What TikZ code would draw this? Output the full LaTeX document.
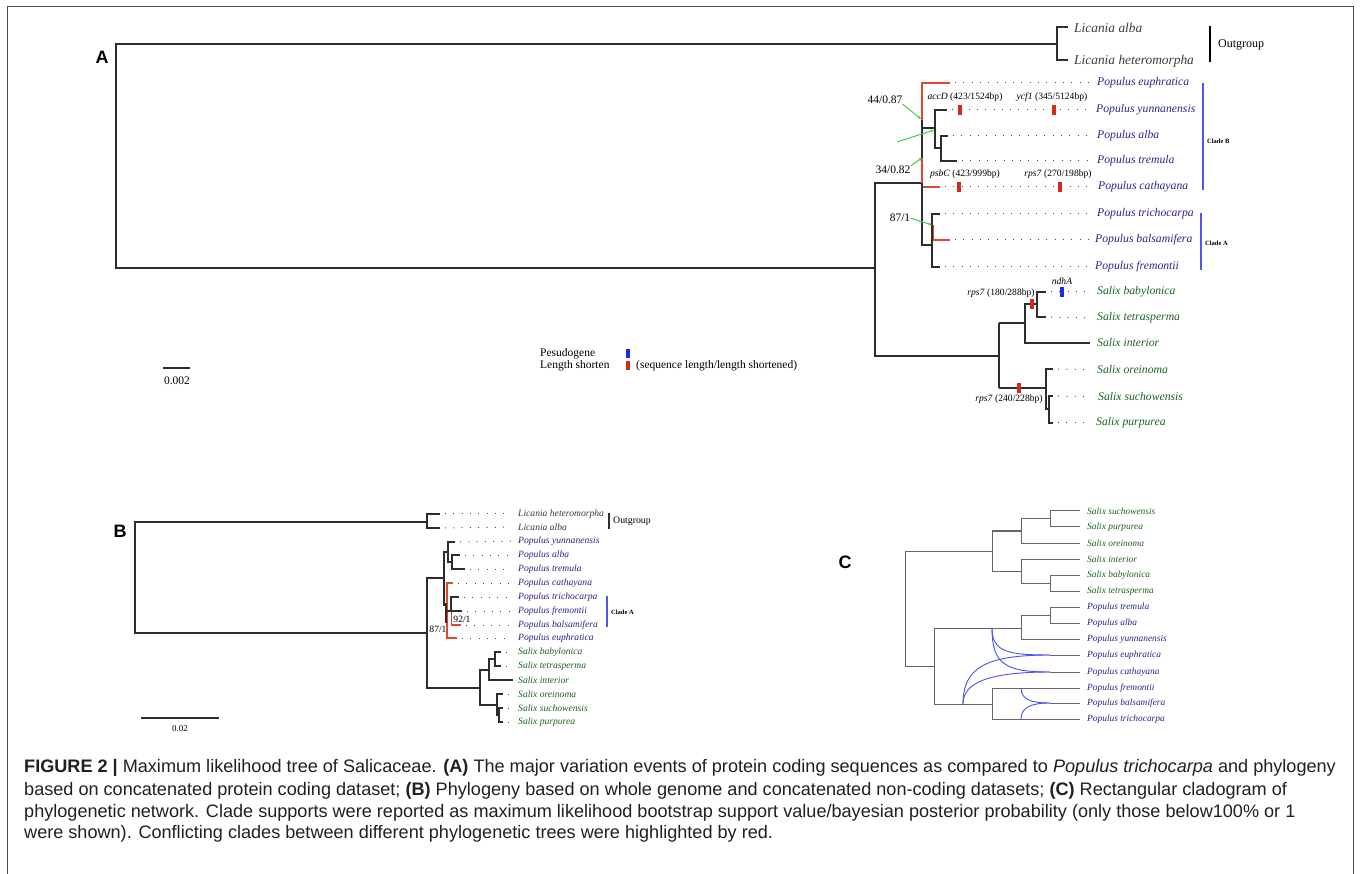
\documentclass[tikz,border=0pt]{standalone}
\usepackage{fontspec}
\setmainfont{Liberation Serif}
\setsansfont{Liberation Sans}
\newfontfamily\capfont{Liberation Sans}
\usetikzlibrary{positioning,calc,arrows.meta}

\definecolor{popblue}{RGB}{38,38,140}
\definecolor{salgreen}{RGB}{28,100,28}
\definecolor{licgray}{RGB}{60,60,60}
\definecolor{conflict}{RGB}{222,72,48}
\definecolor{cladebar}{RGB}{85,85,235}
\definecolor{suparrow}{RGB}{60,205,80}
\definecolor{shortmk}{RGB}{212,42,28}
\definecolor{pseudomk}{RGB}{28,40,235}
\definecolor{branch}{RGB}{45,45,45}
\definecolor{capgray}{RGB}{35,31,32}

\tikzset{
  br/.style={draw=branch, line width=1.2pt},
  redbr/.style={draw=conflict, line width=1.2pt},
  cbr/.style={draw=black!60, line width=1pt},
  net/.style={draw=pseudomk!80, line width=0.9pt},
  leader/.style={draw=black!70, line width=1pt, dash pattern=on 1pt off 7.3pt, shorten <=5pt, shorten >=7pt},
  cladebarline/.style={draw=cladebar, line width=1.3pt},
  supline/.style={draw=suparrow, line width=1pt, -{Stealth[length=3.5pt,width=3pt]}},
  taxA/.style={anchor=west, inner sep=0pt, font=\fontsize{11.7}{13}\selectfont\itshape},
  taxB/.style={anchor=west, inner sep=0pt, font=\fontsize{9.6}{11}\selectfont\itshape},
  taxC/.style={anchor=west, inner sep=0pt, font=\fontsize{9.4}{11}\selectfont\itshape},
  licA/.style={taxA, text=licgray, font=\fontsize{13.4}{15}\selectfont\itshape},
  genelab/.style={inner sep=0pt, font=\fontsize{9.6}{11}\selectfont},
  suplab/.style={inner sep=0pt, font=\fontsize{11.5}{13}\selectfont},
  smalllab/.style={inner sep=0pt, font=\fontsize{9.6}{11}\selectfont},
  cladelab/.style={anchor=west, inner sep=0pt, font=\fontsize{6.5}{7}\selectfont\bfseries},
  mk/.style={fill=shortmk, minimum width=3.2pt, minimum height=10pt, inner sep=0pt},
  pmk/.style={mk, fill=pseudomk},
  panel/.style={inner sep=0pt, font=\fontsize{18}{20}\sffamily\bfseries},
  caption/.style={anchor=base west, inner sep=0pt, text=capgray, font=\capfont\fontsize{18.1}{21}\selectfont}
}

\begin{document}
\begin{tikzpicture}[x=1pt, y=-1pt]
\useasboundingbox (0,0) rectangle (1361,874);
\fill[white] (0,0) rectangle (1361,874);
\draw[black!70, line width=0.8pt] (7,874) -- (7,6) -- (1353,6) -- (1353,874);

% ---------------- A ----------------
\node (labA) [panel] at (102,57) {A};
\draw[br] (1057,44) -- (116,44) -- (116,268) -- (875,268);
\draw[br] (1068,27) -- (1057,27) -- (1057,60) -- (1068,60);
\draw[br] (922,183) -- (875,183) -- (875,356) -- (999,356);

\draw[redbr] (950,83) -- (922,83) -- (922,120);
\draw[br, line width=2.2pt] (922,120) -- (922,158);
\draw[redbr] (922,158) -- (922,187) -- (940,187);
\draw[br] (922,183) -- (922,245) -- (932,245);
\draw[br] (922,128) -- (935,128);
\draw[br] (947,110) -- (935,110) -- (935,148) -- (941,148);
\draw[br] (948,136) -- (941,136) -- (941,161) -- (957,161);
\draw[br] (940,214) -- (932,214) -- (932,267) -- (940,267);
\draw[redbr] (933.5,225) -- (933.5,240) -- (950,240);

\draw[br] (999,323) -- (999,388);
\draw[br] (999,323) -- (1025,323);
\draw[br] (1037,304) -- (1025,304) -- (1025,343) -- (1090,343);
\draw[br] (1046,292) -- (1037,292) -- (1037,317) -- (1046,317);
\draw[br] (999,388) -- (1046,388);
\draw[br] (1053,369) -- (1046,369) -- (1046,409) -- (1049,409);
\draw[br] (1053,396) -- (1049,396) -- (1049,423) -- (1053,423);

\node (aLalb) [licA] at (1074,28) {Licania alba};
\node (aLhet) [licA] at (1074,61) {Licania heteromorpha};
\node (aEuph) [taxA, text=popblue] at (1097,83) {Populus euphratica};
\node (aYunn) [taxA, text=popblue] at (1096,110) {Populus yunnanensis};
\node (aAlba) [taxA, text=popblue] at (1097,136) {Populus alba};
\node (aTrem) [taxA, text=popblue] at (1097,161) {Populus tremula};
\node (aCath) [taxA, text=popblue] at (1098,187) {Populus cathayana};
\node (aTric) [taxA, text=popblue] at (1097,214) {Populus trichocarpa};
\node (aBals) [taxA, text=popblue] at (1095,240) {Populus balsamifera};
\node (aFrem) [taxA, text=popblue] at (1095,267) {Populus fremontii};
\node (aBaby) [taxA, text=salgreen] at (1097,292) {Salix babylonica};
\node (aTetr) [taxA, text=salgreen] at (1097,318) {Salix tetrasperma};
\node (aInte) [taxA, text=salgreen] at (1097,343) {Salix interior};
\node (aOrei) [taxA, text=salgreen] at (1097,370) {Salix oreinoma};
\node (aSuch) [taxA, text=salgreen] at (1098,397) {Salix suchowensis};
\node (aPurp) [taxA, text=salgreen] at (1096,423) {Salix purpurea};

\draw[leader] (1068,28) -- (aLalb.west);
\draw[leader] (1068,61) -- (aLhet.west);
\draw[leader] (950,83) -- (aEuph.west);
\draw[leader] (947,110) -- (aYunn.west);
\draw[leader] (948,136) -- (aAlba.west);
\draw[leader] (957,161) -- (aTrem.west);
\draw[leader] (940,187) -- (aCath.west);
\draw[leader] (940,214) -- (aTric.west);
\draw[leader] (950,240) -- (aBals.west);
\draw[leader] (940,267) -- (aFrem.west);
\draw[leader] (1046,292) -- (aBaby.west);
\draw[leader] (1046,317) -- (aTetr.west);
\draw[leader] (1053,369) -- (aOrei.west);
\draw[leader] (1053,396) -- (aSuch.west);
\draw[leader] (1053,423) -- (aPurp.west);

\draw[black, line width=1.1pt] (1210,26) -- (1210,62);
\node (aOut) [anchor=west, inner sep=0pt, font=\fontsize{12}{14}\selectfont] at (1218,45) {Outgroup};
\draw[cladebarline] (1203,83) -- (1203,190);
\node (aCladeB) [cladelab] at (1207,141) {Clade B};
\draw[cladebarline] (1201,213) -- (1201,270);
\node (aCladeA) [cladelab] at (1205,243) {Clade A};

\node (accD) [mk] at (960,110) {};
\node (ycf1) [mk] at (1054,110) {};
\node (psbC) [mk] at (959,187) {};
\node (rpsA) [mk] at (1060,187) {};
\node (rpsB) [mk] at (1032,304) {};
\node (rpsC) [mk] at (1019,388) {};
\node (ndhA) [pmk] at (1062,292) {};
\node (accDlab) [genelab, above=3pt of accD, xshift=5pt] {\textit{accD} (423/1524bp)};
\node (ycf1lab) [genelab, above=3pt of ycf1, xshift=-2pt] {\textit{ycf1} (345/5124bp)};
\node (psbClab) [genelab, above=3pt of psbC, xshift=6pt] {\textit{psbC} (423/999bp)};
\node (rpsAlab) [genelab, above=3pt of rpsA, xshift=-2pt] {\textit{rps7} (270/198bp)};
\node (rpsBlab) [genelab, above=1pt of rpsB, xshift=-31pt] {\textit{rps7} (180/288bp)};
\node (rpsClab) [genelab, below=1pt of rpsC, xshift=-10pt] {\textit{rps7} (240/228bp)};
\node (ndhAlab) [genelab, above=2pt of ndhA] {\textit{ndhA}};

\node (sup44) [suplab] at (885,100) {44/0.87};
\node (sup34) [suplab] at (893,170) {34/0.82};
\node (sup87) [suplab] at (900,218) {87/1};
\coordinate (n44) at (921,119);
\coordinate (n34) at (922,158);
\coordinate (nYA) at (934,130);
\coordinate (fromYA) at (897,142);
\coordinate (n87) at (932,225);
\draw[supline] (sup44.south east) -- (n44);
\draw[supline] (sup34.north east) -- (n34);
\draw[supline] (fromYA) -- (nYA);
\draw[supline] (sup87.east) -- (n87);

\node (legP) [anchor=west, inner sep=0pt, font=\fontsize{11.5}{13}\selectfont] at (540,354) {Pesudogene};
\node (legL) [anchor=west, inner sep=0pt, font=\fontsize{11.5}{13}\selectfont] at (540,366) {Length shorten};
\node (legPmk) [pmk, minimum height=9pt] at (628,354) {};
\node (legLmk) [mk, minimum height=9pt] at (628,366) {};
\node (legS) [anchor=west, inner sep=0pt, font=\fontsize{11.5}{13}\selectfont] at (636,366) {(sequence length/length shortened)};

\draw[br] (163,368) -- (190,368);
\node (scaleA) [inner sep=0pt, font=\fontsize{11.5}{13}\selectfont] at (177,381) {0.002};

% ---------------- B ----------------
\node (labB) [panel] at (120,531) {B};
\draw[br] (427,522) -- (135,522) -- (135,633) -- (427,633);
\draw[br] (440,514) -- (427,514) -- (427,528) -- (440,528);
\draw[br] (444,578) -- (427,578) -- (427,688) -- (480,688);
\draw[br] (448,552) -- (444,552) -- (444,605) -- (447,605);
\draw[br] (455,542) -- (448,542) -- (448,562) -- (452,562);
\draw[br] (460,555) -- (452,555) -- (452,569) -- (465,569);
\draw[redbr] (453,583) -- (447,583) -- (447,638) -- (457,638);
\draw[br, line width=2pt] (445.5,603) -- (445.5,623);
\draw[br] (447,611) -- (451,611);
\draw[br] (459,597) -- (451,597) -- (451,611) -- (462,611);
\draw[redbr] (451.5,612) -- (451.5,625) -- (461,625);
\draw[br] (489,670) -- (480,670) -- (480,705) -- (497,705);
\draw[br] (495,659) -- (489,659) -- (489,680) -- (513,680);
\draw[br] (501,652) -- (495,652) -- (495,666) -- (501,666);
\draw[br] (503,694) -- (497,694) -- (497,715) -- (499,715);
\draw[br] (503,708) -- (499,708) -- (499,722) -- (503,722);

\node (bLhet) [taxB, text=licgray] at (518,514) {Licania heteromorpha};
\node (bLalb) [taxB, text=licgray] at (518,527) {Licania alba};
\node (bYunn) [taxB, text=popblue] at (518,541) {Populus yunnanensis};
\node (bAlba) [taxB, text=popblue] at (518,555) {Populus alba};
\node (bTrem) [taxB, text=popblue] at (518,569) {Populus tremula};
\node (bCath) [taxB, text=popblue] at (518,583) {Populus cathayana};
\node (bTric) [taxB, text=popblue] at (518,597) {Populus trichocarpa};
\node (bFrem) [taxB, text=popblue] at (518,611) {Populus fremontii};
\node (bBals) [taxB, text=popblue] at (518,625) {Populus balsamifera};
\node (bEuph) [taxB, text=popblue] at (518,638) {Populus euphratica};
\node (bBaby) [taxB, text=salgreen] at (518,652) {Salix babylonica};
\node (bTetr) [taxB, text=salgreen] at (518,666) {Salix tetrasperma};
\node (bInte) [taxB, text=salgreen] at (518,680) {Salix interior};
\node (bOrei) [taxB, text=salgreen] at (518,694) {Salix oreinoma};
\node (bSuch) [taxB, text=salgreen] at (518,708) {Salix suchowensis};
\node (bPurp) [taxB, text=salgreen] at (518,722) {Salix purpurea};

\draw[leader] (440,514) -- (bLhet.west);
\draw[leader] (440,528) -- (bLalb.west);
\draw[leader] (455,542) -- (bYunn.west);
\draw[leader] (460,555) -- (bAlba.west);
\draw[leader] (465,569) -- (bTrem.west);
\draw[leader] (453,583) -- (bCath.west);
\draw[leader] (459,597) -- (bTric.west);
\draw[leader] (462,611) -- (bFrem.west);
\draw[leader] (461,625) -- (bBals.west);
\draw[leader] (457,638) -- (bEuph.west);
\draw[leader] (501,652) -- (bBaby.west);
\draw[leader] (501,666) -- (bTetr.west);
\draw[leader] (503,694) -- (bOrei.west);
\draw[leader] (503,708) -- (bSuch.west);
\draw[leader] (503,722) -- (bPurp.west);

\draw[branch, line width=1.8pt] (609,513) -- (609,529);
\node (bOut) [anchor=west, inner sep=0pt, font=\fontsize{9.8}{11}\selectfont] at (613,521) {Outgroup};
\draw[cladebarline] (607,596) -- (607,627);
\node (bCladeA) [cladelab] at (611,612) {Clade A};
\node (sup92) [smalllab] at (462,619) {92/1};
\node (supB87) [smalllab] at (438,629) {87/1};

\draw[br] (141,718) -- (219,718);
\node (scaleB) [inner sep=0pt, font=\fontsize{9}{11}\selectfont] at (180,729) {0.02};

% ---------------- C ----------------
\node (labC) [panel] at (845,562) {C};
\draw[cbr] (992,551) -- (905,551) -- (905,666) -- (934,666);
\draw[cbr] (1021,531) -- (992,531) -- (992,571) -- (1021,571);
\draw[cbr] (1050,519) -- (1021,519) -- (1021,543) -- (1080,543);
\draw[cbr] (1080,511) -- (1050,511) -- (1050,527) -- (1080,527);
\draw[cbr] (1080,559) -- (1021,559) -- (1021,583) -- (1050,583);
\draw[cbr] (1080,575) -- (1050,575) -- (1050,591) -- (1080,591);
\draw[cbr] (1021,628) -- (934,628) -- (934,704) -- (992,704);
\draw[cbr] (1050,615) -- (1021,615) -- (1021,639) -- (1080,639);
\draw[cbr] (1080,607) -- (1050,607) -- (1050,623) -- (1080,623);
\draw[cbr] (1050,655) -- (1080,655);
\draw[cbr] (1050,672) -- (1080,672);
\draw[cbr] (1080,688) -- (992,688) -- (992,719) -- (1080,719);
\draw[cbr] (1050,703) -- (1080,703);

\draw[net] (992,628) .. controls (992,652) and (1008,655) .. (1050,655);
\draw[net] (992,628) .. controls (992,664) and (1005,672) .. (1050,672);
\draw[net] (963,704) .. controls (963,668) and (985,655) .. (1050,655);
\draw[net] (963,704) .. controls (963,684) and (985,672) .. (1050,672);
\draw[net] (1021,688) .. controls (1021,700) and (1032,703) .. (1050,703);
\draw[net] (1021,719) .. controls (1021,707) and (1032,703) .. (1050,703);

\node (cSuch) [taxC, text=salgreen] at (1087,511) {Salix suchowensis};
\node (cPurp) [taxC, text=salgreen] at (1087,527) {Salix purpurea};
\node (cOrei) [taxC, text=salgreen] at (1087,543) {Salix oreinoma};
\node (cInte) [taxC, text=salgreen] at (1087,559) {Salix interior};
\node (cBaby) [taxC, text=salgreen] at (1087,575) {Salix babylonica};
\node (cTetr) [taxC, text=salgreen] at (1087,591) {Salix tetrasperma};
\node (cTrem) [taxC, text=popblue] at (1087,607) {Populus tremula};
\node (cAlba) [taxC, text=popblue] at (1087,623) {Populus alba};
\node (cYunn) [taxC, text=popblue] at (1087,639) {Populus yunnanensis};
\node (cEuph) [taxC, text=popblue] at (1087,655) {Populus euphratica};
\node (cCath) [taxC, text=popblue] at (1087,672) {Populus cathayana};
\node (cFrem) [taxC, text=popblue] at (1087,688) {Populus fremontii};
\node (cBals) [taxC, text=popblue] at (1087,703) {Populus balsamifera};
\node (cTric) [taxC, text=popblue] at (1087,719) {Populus trichocarpa};

% ---------------- caption ----------------
\node (cap1) [caption] at (24,772) {\textbf{FIGURE 2 |} Maximum likelihood tree of Salicaceae. \textbf{(A)} The major variation events of protein coding sequences as compared to \textit{Populus trichocarpa} and phylogeny};
\node (cap2) [caption] at (24,795) {based on concatenated protein coding dataset; \textbf{(B)} Phylogeny based on whole genome and concatenated non-coding datasets; \textbf{(C)} Rectangular cladogram of};
\node (cap3) [caption] at (24,817) {phylogenetic network. Clade supports were reported as maximum likelihood bootstrap support value/bayesian posterior probability (only those below100\% or 1};
\node (cap4) [caption] at (24,838) {were shown). Conflicting clades between different phylogenetic trees were highlighted by red.};
\end{tikzpicture}
\end{document}
